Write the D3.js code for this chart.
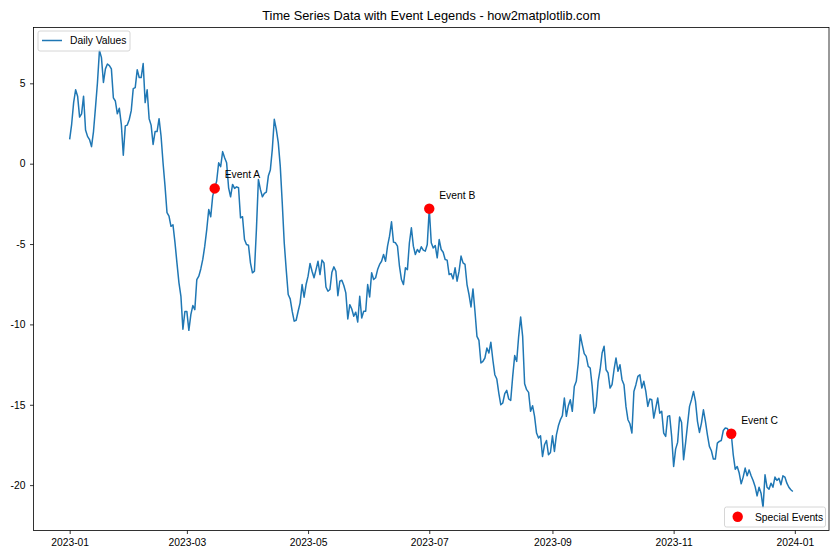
<!DOCTYPE html>
<html>
<head>
<meta charset="utf-8">
<script src="https://cdn.jsdelivr.net/npm/d3@7"></script>
<style>
  html, body { margin: 0; padding: 0; background: #fff; }
  text { font-family: "Liberation Sans", Arial, sans-serif; }
</style>
</head>
<body>
<svg id="chart" width="840" height="560"></svg>
<script>
// ---- data ----
const startDate = "2023-01-01";
const dailyValues = [
  1.51, 2.45, 3.8, 4.6, 4.2, 2.9, 3.1, 4.2, 2.1, 1.7,
  1.5, 1.06, 2.0, 3.5, 5.05, 7.05, 6.6, 5.05, 5.9, 6.2,
  6.1, 5.9, 4.1, 3.9, 3.1, 3.45, 2.45, 0.52, 2.35, 2.4,
  2.75, 3.3, 4.67, 4.73, 5.84, 5.36, 5.36, 6.23, 3.8, 4.6,
  2.8, 2.4, 1.2, 2.0, 2.0, 2.8, 1.72, 0.06, -1.4, -3.05,
  -3.26, -3.9, -3.8, -4.9, -6.17, -7.4, -8.25, -10.3, -9.2, -9.2,
  -10.37, -9.39, -8.83, -9.08, -7.21, -7.0, -6.55, -5.96, -5.13, -4.1,
  -2.85, -3.3, -2.02, -1.54, -1.08, 0.06, -0.19, 0.75, 0.37, 0.06,
  -1.5, -2.06, -1.29, -1.54, -1.44, -1.5, -3.37, -3.3, -4.72, -5.03,
  -5.07, -6.17, -6.79, -6.69, -4.09, -0.98, -1.6, -2.06, -1.85, -1.77,
  -0.77, -0.4, 0.89, 2.76, 2.14, 1.31, -0.15, -2.43, -4.92, -6.59,
  -8.14, -8.41, -9.18, -9.8, -9.74, -9.18, -8.66, -7.52, -8.31, -7.52,
  -7.0, -6.21, -6.69, -7.1, -6.59, -6.07, -6.9, -6.0, -6.17, -7.67,
  -7.94, -7.83, -6.75, -6.42, -6.69, -8.21, -7.31, -7.25, -7.58, -8.04,
  -9.66, -8.77, -9.04, -9.49, -9.24, -9.85, -8.25, -9.6, -9.18, -9.18,
  -7.52, -8.29, -6.79, -7.21, -7.1, -6.59, -6.27, -6.07, -5.65, -6.07,
  -5.13, -4.51, -3.62, -4.88, -4.92, -5.13, -6.38, -7.21, -7.52, -6.48,
  -6.59, -4.92, -3.99, -5.13, -5.65, -5.34, -5.51, -5.17, -5.38, -5.44,
  -5.03, -2.8, -4.92, -5.24, -5.09, -5.86, -4.72, -5.34, -5.51, -5.96,
  -6.0, -6.9, -6.84, -7.17, -6.48, -7.31, -6.69, -5.75, -6.17, -6.27,
  -7.52, -8.14, -8.91, -7.79, -9.18, -10.74, -10.99, -12.4, -12.3, -12.09,
  -11.47, -11.78, -11.11, -12.2, -13.13, -13.4, -14.27, -15.0, -14.89, -14.31,
  -14.1, -14.64, -14.73, -13.23, -11.94, -12.3, -10.74, -9.54, -10.74, -13.69,
  -14.06, -14.23, -15.41, -15.06, -15.72, -16.76, -17.07, -16.93, -18.22, -17.49,
  -17.22, -18.11, -17.97, -16.93, -17.9, -16.87, -16.31, -15.93, -15.68, -14.58,
  -15.72, -15.06, -14.69, -15.41, -13.86, -13.54, -12.4, -10.64, -11.26, -11.82,
  -11.99, -12.61, -12.71, -13.86, -15.52, -15.1, -13.54, -12.82, -11.78, -11.36,
  -12.82, -13.02, -13.96, -13.75, -12.82, -12.09, -12.92, -12.51, -13.44, -13.75,
  -15.1, -15.93, -16.18, -16.76, -14.17, -13.75, -13.23, -13.13, -13.96, -13.54,
  -14.17, -15.1, -14.64, -14.69, -15.83, -15.21, -14.58, -15.52, -15.41, -16.76,
  -16.97, -15.72, -15.68, -16.97, -18.84, -17.76, -17.34, -15.76, -16.1, -18.42,
  -17.39, -16.24, -15.1, -14.68, -14.17, -14.79, -16.03, -16.72, -16.14, -15.31,
  -16.03, -16.87, -17.59, -17.86, -18.38, -18.38, -17.39, -17.28, -17.22, -16.6,
  -16.45, -16.47, -16.72, -16.8, -18.11, -19.01, -18.84, -19.25, -19.92, -19.5,
  -18.94, -19.42, -19.05, -19.42, -19.71, -20.08, -20.67, -20.13, -20.5, -21.4,
  -19.36, -20.13, -20.25, -19.88, -20.13, -19.5, -19.71, -19.57, -19.98, -19.42,
  -19.5, -19.88, -20.13, -20.29, -20.4
];
const eventDates = ["2023-03-15", "2023-07-01", "2023-11-30"];
const eventLabels = ["Event A", "Event B", "Event C"];
const xTickLabels = ["2023-01", "2023-03", "2023-05", "2023-07", "2023-09", "2023-11", "2024-01"];
const yTickValues = [-20, -15, -10, -5, 0, 5];
const titleText = "Time Series Data with Event Legends - how2matplotlib.com";
const lineLegend = "Daily Values";
const eventLegend = "Special Events";

// ---- build ----
const parse = d3.utcParse("%Y-%m-%d");
const parseMonth = d3.utcParse("%Y-%m");
const t0 = parse(startDate);
const series = dailyValues.map((v, i) => ({ date: d3.utcDay.offset(t0, i), value: v }));
const events = eventDates.map((d, i) => {
  const dt = parse(d);
  const idx = Math.round((dt - t0) / 864e5);
  return { date: dt, value: series[idx].value, label: eventLabels[i] };
});

const L = 33.5, R = 829, T = 27.5, B = 530.5;
const FS = "10.3px";
const svg = d3.select("#chart");

const xExt = d3.extent(series, d => d.date);
const xPad = (xExt[1] - xExt[0]) * 0.05;
const x = d3.scaleUtc()
  .domain([new Date(+xExt[0] - xPad), new Date(+xExt[1] + xPad)])
  .range([L, R]);
const yExt = d3.extent(series, d => d.value);
const yPad = (yExt[1] - yExt[0]) * 0.05;
const y = d3.scaleLinear()
  .domain([yExt[0] - yPad, yExt[1] + yPad])
  .range([B, T]);

// title
svg.append("text")
  .attr("x", (L + R) / 2).attr("y", 20)
  .attr("text-anchor", "middle")
  .attr("font-size", "12.8px")
  .attr("fill", "#000")
  .text(titleText);

// axes
const xAxis = d3.axisBottom(x)
  .tickValues(xTickLabels.map(s => parseMonth(s)))
  .tickFormat(d3.utcFormat("%Y-%m"))
  .tickSize(3.5).tickPadding(5);
const gx = svg.append("g").attr("transform", `translate(0,${B})`).call(xAxis);
const yAxis = d3.axisLeft(y)
  .tickValues(yTickValues)
  .tickFormat(d3.format("d"))
  .tickSize(3.5).tickPadding(4.5);
const gy = svg.append("g").attr("transform", `translate(${L},0)`).call(yAxis);
[gx, gy].forEach(g => {
  g.select(".domain").remove();
  g.selectAll(".tick line").attr("stroke", "#000").attr("stroke-width", 0.8);
  g.selectAll(".tick text")
    .attr("fill", "#000")
    .attr("font-size", FS)
    .style("font-family", '"Liberation Sans", Arial, sans-serif');
});
gy.selectAll(".tick text").text(d => d < 0 ? "-" + Math.abs(d) : d);

// line
const line = d3.line().x(d => x(d.date)).y(d => y(d.value));
svg.append("path")
  .datum(series)
  .attr("fill", "none")
  .attr("stroke", "#1f77b4")
  .attr("stroke-width", 1.5)
  .attr("stroke-linejoin", "round")
  .attr("d", line);

// events
svg.append("g").selectAll("circle")
  .data(events).join("circle")
  .attr("cx", d => x(d.date))
  .attr("cy", d => y(d.value))
  .attr("r", 5.2)
  .attr("fill", "#ff0000");
svg.append("g").selectAll("text")
  .data(events).join("text")
  .attr("x", d => x(d.date) + 10)
  .attr("y", d => y(d.value) - 10)
  .attr("font-size", FS)
  .attr("fill", "#000")
  .text(d => d.label);

// frame
svg.append("rect")
  .attr("x", L).attr("y", T)
  .attr("width", R - L).attr("height", B - T)
  .attr("fill", "none").attr("stroke", "#000").attr("stroke-width", 0.8);

// legend: line
const lg1 = svg.append("g");
lg1.append("rect")
  .attr("x", 38).attr("y", 31).attr("width", 92).attr("height", 20).attr("rx", 2)
  .attr("fill", "#fff").attr("fill-opacity", 0.8)
  .attr("stroke", "#cccccc").attr("stroke-width", 0.8);
lg1.append("line")
  .attr("x1", 42).attr("x2", 62).attr("y1", 40.5).attr("y2", 40.5)
  .attr("stroke", "#1f77b4").attr("stroke-width", 1.5);
lg1.append("text")
  .attr("x", 70).attr("y", 44.3)
  .attr("font-size", FS).attr("fill", "#000")
  .text(lineLegend);

// legend: events
const lg2 = svg.append("g");
lg2.append("rect")
  .attr("x", 724.5).attr("y", 507).attr("width", 101).attr("height", 20).attr("rx", 2)
  .attr("fill", "#fff").attr("fill-opacity", 0.8)
  .attr("stroke", "#cccccc").attr("stroke-width", 0.8);
lg2.append("circle")
  .attr("cx", 737.7).attr("cy", 516.8).attr("r", 5.2)
  .attr("fill", "#ff0000");
lg2.append("text")
  .attr("x", 755).attr("y", 520.8)
  .attr("font-size", FS).attr("fill", "#000")
  .text(eventLegend);
</script>
</body>
</html>
